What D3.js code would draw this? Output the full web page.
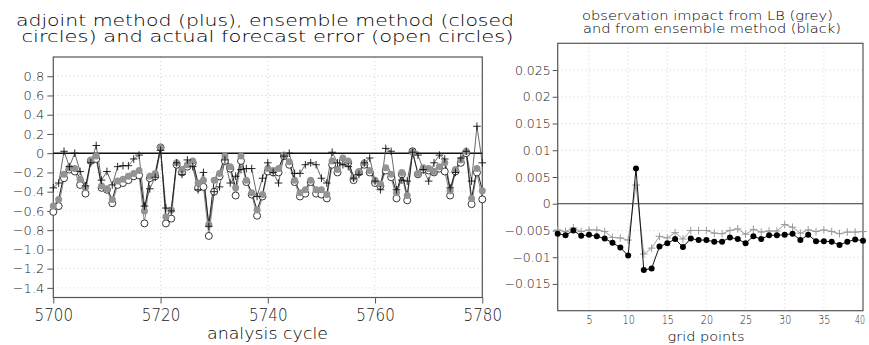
<!DOCTYPE html>
<html>
<head>
<meta charset="utf-8">
<script src="https://cdn.jsdelivr.net/npm/d3@7"></script>
<style>
  body { margin: 0; background: #fff; }
  svg { display: block; font-family: "DejaVu Sans", sans-serif; }
</style>
</head>
<body>
<div id="chart"></div>
<script>
// left panel: analysis cycles 5700..5780
const cycles = d3.range(5700, 5781);
const adjoint = [-0.36, -0.31, 0.02, -0.14, 0.00, -0.19, -0.34, -0.10, 0.08, -0.28,
  -0.19, -0.33, -0.14, -0.13, -0.13, -0.06, -0.02, -0.55, -0.37, -0.25,
  0.03, -0.57, -0.60, -0.10, -0.22, -0.07, -0.14, -0.38, -0.20, -0.76,
  -0.40, -0.35, -0.07, -0.31, -0.24, -0.17, -0.16, -0.16, -0.45, -0.26,
  -0.10, -0.20, -0.31, -0.03, 0.00, -0.21, -0.21, -0.12, -0.10, -0.12,
  -0.26, -0.31, 0.01, -0.10, -0.12, -0.14, -0.26, -0.22, -0.10, -0.05,
  -0.29, -0.38, 0.05, 0.02, -0.38, -0.28, -0.29, 0.01, -0.02, -0.17,
  -0.29, -0.10, -0.02, -0.06, -0.36, -0.20, -0.05, 0.02, -0.29, 0.28, -0.10];
const ensemble = [-0.55, -0.48, -0.22, -0.15, -0.16, -0.27, -0.36, -0.07, -0.03, -0.34,
  -0.37, -0.48, -0.29, -0.27, -0.24, -0.21, -0.18, -0.60, -0.24, -0.21,
  0.06, -0.66, -0.59, -0.10, -0.17, -0.12, -0.08, -0.31, -0.28, -0.74,
  -0.28, -0.21, -0.03, -0.14, -0.36, -0.03, -0.28, -0.41, -0.59, -0.43,
  -0.16, -0.18, -0.16, -0.02, -0.09, -0.28, -0.41, -0.38, -0.28, -0.38,
  -0.38, -0.43, -0.08, -0.17, -0.05, -0.08, -0.25, -0.19, -0.10, -0.18,
  -0.28, -0.32, -0.15, -0.22, -0.41, -0.20, -0.44, 0.01, -0.21, -0.15,
  -0.16, -0.19, -0.14, -0.10, -0.39, -0.17, -0.07, 0.02, -0.47, -0.16, -0.39];
const actual = [-0.61, -0.55, -0.26, -0.17, -0.19, -0.33, -0.42, -0.08, -0.06, -0.36,
  -0.38, -0.52, -0.33, -0.31, -0.28, -0.24, -0.23, -0.73, -0.26, -0.24,
  0.06, -0.73, -0.68, -0.12, -0.20, -0.14, -0.10, -0.36, -0.35, -0.86,
  -0.40, -0.24, -0.08, -0.16, -0.44, -0.08, -0.30, -0.43, -0.65, -0.45,
  -0.19, -0.20, -0.20, -0.03, -0.12, -0.30, -0.45, -0.42, -0.30, -0.42,
  -0.43, -0.47, -0.12, -0.20, -0.08, -0.10, -0.28, -0.20, -0.12, -0.20,
  -0.31, -0.34, -0.18, -0.25, -0.47, -0.22, -0.49, 0.02, -0.22, -0.17,
  -0.18, -0.20, -0.16, -0.19, -0.44, -0.19, -0.10, 0.00, -0.53, -0.20, -0.48];
const leftYTicks = [0.8, 0.6, 0.4, 0.2, 0, -0.2, -0.4, -0.6, -0.8, -1, -1.2, -1.4];
const leftXTicks = [5700, 5720, 5740, 5760, 5780];

// right panel: grid points 1..40
const gridPoints = d3.range(1, 41);
const lbImpact = [-0.0049, -0.0052, -0.0045, -0.0052, -0.0049, -0.0049, -0.0052, -0.0063, -0.0064, -0.0068,
  0.0035, -0.0094, -0.0083, -0.0061, -0.0064, -0.0054, -0.0066, -0.0050, -0.0050, -0.0050,
  -0.0055, -0.0056, -0.0050, -0.0047, -0.0057, -0.0048, -0.0053, -0.0051, -0.0051, -0.0039,
  -0.0044, -0.0055, -0.0049, -0.0052, -0.0049, -0.0052, -0.0056, -0.0053, -0.0053, -0.0052];
const ensImpact = [-0.0056, -0.0059, -0.0050, -0.0060, -0.0058, -0.0061, -0.0065, -0.0073, -0.0082, -0.0097,
  0.0066, -0.0124, -0.0121, -0.0080, -0.0074, -0.0066, -0.0081, -0.0065, -0.0068, -0.0068,
  -0.0071, -0.0071, -0.0063, -0.0066, -0.0074, -0.0061, -0.0066, -0.0059, -0.0059, -0.0058,
  -0.0056, -0.0068, -0.0058, -0.0070, -0.0070, -0.0071, -0.0077, -0.0071, -0.0067, -0.0069];
const rightYTicks = [0.025, 0.02, 0.015, 0.01, 0.005, 0, -0.005, -0.01, -0.015];
const rightXTicks = [5, 10, 15, 20, 25, 30, 35, 40];

const W = 869, H = 345;
const FONT = '"DejaVu Sans", sans-serif';
const svg = d3.select('#chart').append('svg')
  .attr('width', W).attr('height', H);

function plusPath(x, y, s) {
  return `M${x - s},${y}H${x + s}M${x},${y - s}V${y + s}`;
}

// ---------- left panel ----------
const L = { x0: 53.3, x1: 482.3, y0: 57, y1: 297.5 };
const xL = d3.scaleLinear().domain([5700, 5780]).range([L.x0, L.x1]);
const yL = d3.scaleLinear().domain([-1.5, 1.0]).range([L.y1, L.y0]);
const gl = svg.append('g');

// grid
gl.selectAll('.hgrid').data(leftYTicks.filter(d => d !== 0)).join('line')
  .attr('x1', L.x0).attr('x2', L.x1)
  .attr('y1', d => yL(d)).attr('y2', d => yL(d))
  .attr('stroke', '#c8c8c8').attr('stroke-width', 0.8).attr('stroke-dasharray', '1,3');
gl.selectAll('.vgrid').data([5720, 5740, 5760]).join('line')
  .attr('x1', d => xL(d)).attr('x2', d => xL(d))
  .attr('y1', L.y0).attr('y2', L.y1)
  .attr('stroke', '#c8c8c8').attr('stroke-width', 0.8).attr('stroke-dasharray', '1,3');

// axes
const yAxisL = gl.append('g')
  .attr('transform', `translate(${L.x0},0)`)
  .call(d3.axisLeft(yL).tickValues(leftYTicks).tickSize(6).tickPadding(3)
    .tickFormat(d => d === 0 ? '0' : d3.format('.1f')(d)));
yAxisL.select('.domain').remove();
yAxisL.selectAll('line').attr('stroke', '#555');
yAxisL.selectAll('text').attr('font-size', 13).attr('fill', '#222')
  .attr('font-weight', 300).attr('font-family', FONT);

const xAxisL = gl.append('g')
  .attr('transform', `translate(0,${L.y1})`)
  .call(d3.axisBottom(xL).tickValues(leftXTicks).tickSize(6).tickPadding(5).tickFormat(d3.format('d')));
xAxisL.select('.domain').remove();
xAxisL.selectAll('line').attr('stroke', '#555');
xAxisL.selectAll('text').attr('font-size', 17).attr('fill', '#222')
  .attr('font-weight', 300).attr('font-family', FONT)
  .attr('textLength', 38.5).attr('lengthAdjust', 'spacingAndGlyphs');

// frame + zero line
gl.append('rect').attr('x', L.x0).attr('y', L.y0)
  .attr('width', L.x1 - L.x0).attr('height', L.y1 - L.y0)
  .attr('fill', 'none').attr('stroke', '#555').attr('stroke-width', 1.2);
gl.append('line').attr('x1', L.x0).attr('x2', L.x1)
  .attr('y1', yL(0)).attr('y2', yL(0))
  .attr('stroke', '#111').attr('stroke-width', 1.6);

// lines
const lineOf = vals => d3.line().x((d, i) => xL(cycles[i])).y(d => yL(d))(vals);
gl.append('path').attr('d', lineOf(actual)).attr('fill', 'none')
  .attr('stroke', '#8a8a8a').attr('stroke-width', 1);
gl.append('path').attr('d', lineOf(adjoint)).attr('fill', 'none')
  .attr('stroke', '#444').attr('stroke-width', 0.8);
gl.append('path').attr('d', lineOf(ensemble)).attr('fill', 'none')
  .attr('stroke', '#222').attr('stroke-width', 1);

// markers
gl.selectAll('.open').data(actual).join('circle')
  .attr('cx', (d, i) => xL(cycles[i])).attr('cy', d => yL(d)).attr('r', 3.5)
  .attr('fill', '#fff').attr('stroke', '#222').attr('stroke-width', 0.9);
gl.selectAll('.closed').data(ensemble).join('circle')
  .attr('cx', (d, i) => xL(cycles[i])).attr('cy', d => yL(d)).attr('r', 3.5)
  .attr('fill', '#939393');
gl.selectAll('.plus').data(adjoint).join('path')
  .attr('d', (d, i) => plusPath(xL(cycles[i]), yL(d), 3.8))
  .attr('stroke', '#111').attr('stroke-width', 0.9).attr('fill', 'none');

// titles
gl.append('text').attr('x', 16).attr('y', 25.5).attr('font-size', 15.5)
  .attr('font-weight', 300).attr('fill', '#000')
  .attr('textLength', 498).attr('lengthAdjust', 'spacingAndGlyphs')
  .text('adjoint method (plus), ensemble method (closed');
gl.append('text').attr('x', 21.5).attr('y', 42).attr('font-size', 15.5)
  .attr('font-weight', 300).attr('fill', '#000')
  .attr('textLength', 492).attr('lengthAdjust', 'spacingAndGlyphs')
  .text('circles) and actual forecast error (open circles)');
gl.append('text').attr('x', 267.5).attr('y', 339).attr('font-size', 16)
  .attr('font-weight', 300).attr('fill', '#000')
  .attr('text-anchor', 'middle')
  .attr('textLength', 121).attr('lengthAdjust', 'spacingAndGlyphs')
  .text('analysis cycle');

// ---------- right panel ----------
const R = { x0: 557.7, x1: 863, y0: 43.3, y1: 310.7 };
const xR = d3.scaleLinear().domain([1, 40]).range([R.x0, R.x1]);
const yR = d3.scaleLinear().domain([-0.02, 0.03]).range([R.y1, R.y0]);
const gr = svg.append('g');

gr.selectAll('.hgrid').data(rightYTicks.filter(d => d !== 0)).join('line')
  .attr('x1', R.x0).attr('x2', R.x1)
  .attr('y1', d => yR(d)).attr('y2', d => yR(d))
  .attr('stroke', '#c8c8c8').attr('stroke-width', 0.8).attr('stroke-dasharray', '1,3');
gr.selectAll('.vgrid').data(rightXTicks.filter(d => d !== 40)).join('line')
  .attr('x1', d => xR(d)).attr('x2', d => xR(d))
  .attr('y1', R.y0).attr('y2', R.y1)
  .attr('stroke', '#c8c8c8').attr('stroke-width', 0.8).attr('stroke-dasharray', '1,3');

const yAxisR = gr.append('g')
  .attr('transform', `translate(${R.x0},0)`)
  .call(d3.axisLeft(yR).tickValues(rightYTicks).tickSize(5).tickPadding(2)
    .tickFormat(d3.format('.3~f')));
yAxisR.select('.domain').remove();
yAxisR.selectAll('line').attr('stroke', '#555');
yAxisR.selectAll('text').attr('font-size', 12.5).attr('fill', '#222')
  .attr('font-weight', 300).attr('font-family', FONT);

const xAxisR = gr.append('g')
  .attr('transform', `translate(0,${R.y1})`)
  .call(d3.axisBottom(xR).tickValues(rightXTicks).tickSize(0).tickPadding(4));
xAxisR.select('.domain').remove();
xAxisR.selectAll('text').attr('font-size', 13).attr('fill', '#222')
  .attr('font-weight', 300).attr('font-family', FONT)
  .attr('dx', d => d === 40 ? -3.5 : 0)
  .attr('textLength', d => String(d).length * (d === 40 ? 5 : 6.1))
  .attr('lengthAdjust', 'spacingAndGlyphs');

gr.append('rect').attr('x', R.x0).attr('y', R.y0)
  .attr('width', R.x1 - R.x0).attr('height', R.y1 - R.y0)
  .attr('fill', 'none').attr('stroke', '#555').attr('stroke-width', 1.2);
gr.append('line').attr('x1', R.x0).attr('x2', R.x1)
  .attr('y1', yR(0)).attr('y2', yR(0))
  .attr('stroke', '#333').attr('stroke-width', 1);

const lineR = vals => d3.line().x((d, i) => xR(gridPoints[i])).y(d => yR(d))(vals);
gr.append('path').attr('d', lineR(lbImpact)).attr('fill', 'none')
  .attr('stroke', '#a0a0a0').attr('stroke-width', 1);
gr.selectAll('.lbplus').data(lbImpact).join('path')
  .attr('d', (d, i) => plusPath(xR(gridPoints[i]), yR(d), 3.8))
  .attr('stroke', '#9a9a9a').attr('stroke-width', 1).attr('fill', 'none');
gr.append('path').attr('d', lineR(ensImpact)).attr('fill', 'none')
  .attr('stroke', '#111').attr('stroke-width', 1);
gr.selectAll('.ensdot').data(ensImpact).join('circle')
  .attr('cx', (d, i) => xR(gridPoints[i])).attr('cy', d => yR(d)).attr('r', 3)
  .attr('fill', '#000');

gr.append('text').attr('x', 582).attr('y', 19.5).attr('font-size', 11.5)
  .attr('font-weight', 300).attr('fill', '#000')
  .attr('textLength', 251).attr('lengthAdjust', 'spacingAndGlyphs')
  .text('observation impact from LB (grey)');
gr.append('text').attr('x', 583).attr('y', 32.5).attr('font-size', 11.5)
  .attr('font-weight', 300).attr('fill', '#000')
  .attr('textLength', 258).attr('lengthAdjust', 'spacingAndGlyphs')
  .text('and from ensemble method (black)');
gr.append('text').attr('x', 706).attr('y', 340.5).attr('font-size', 12.5)
  .attr('font-weight', 300).attr('fill', '#000')
  .attr('text-anchor', 'middle')
  .attr('textLength', 77).attr('lengthAdjust', 'spacingAndGlyphs')
  .text('grid points');
</script>
</body>
</html>
